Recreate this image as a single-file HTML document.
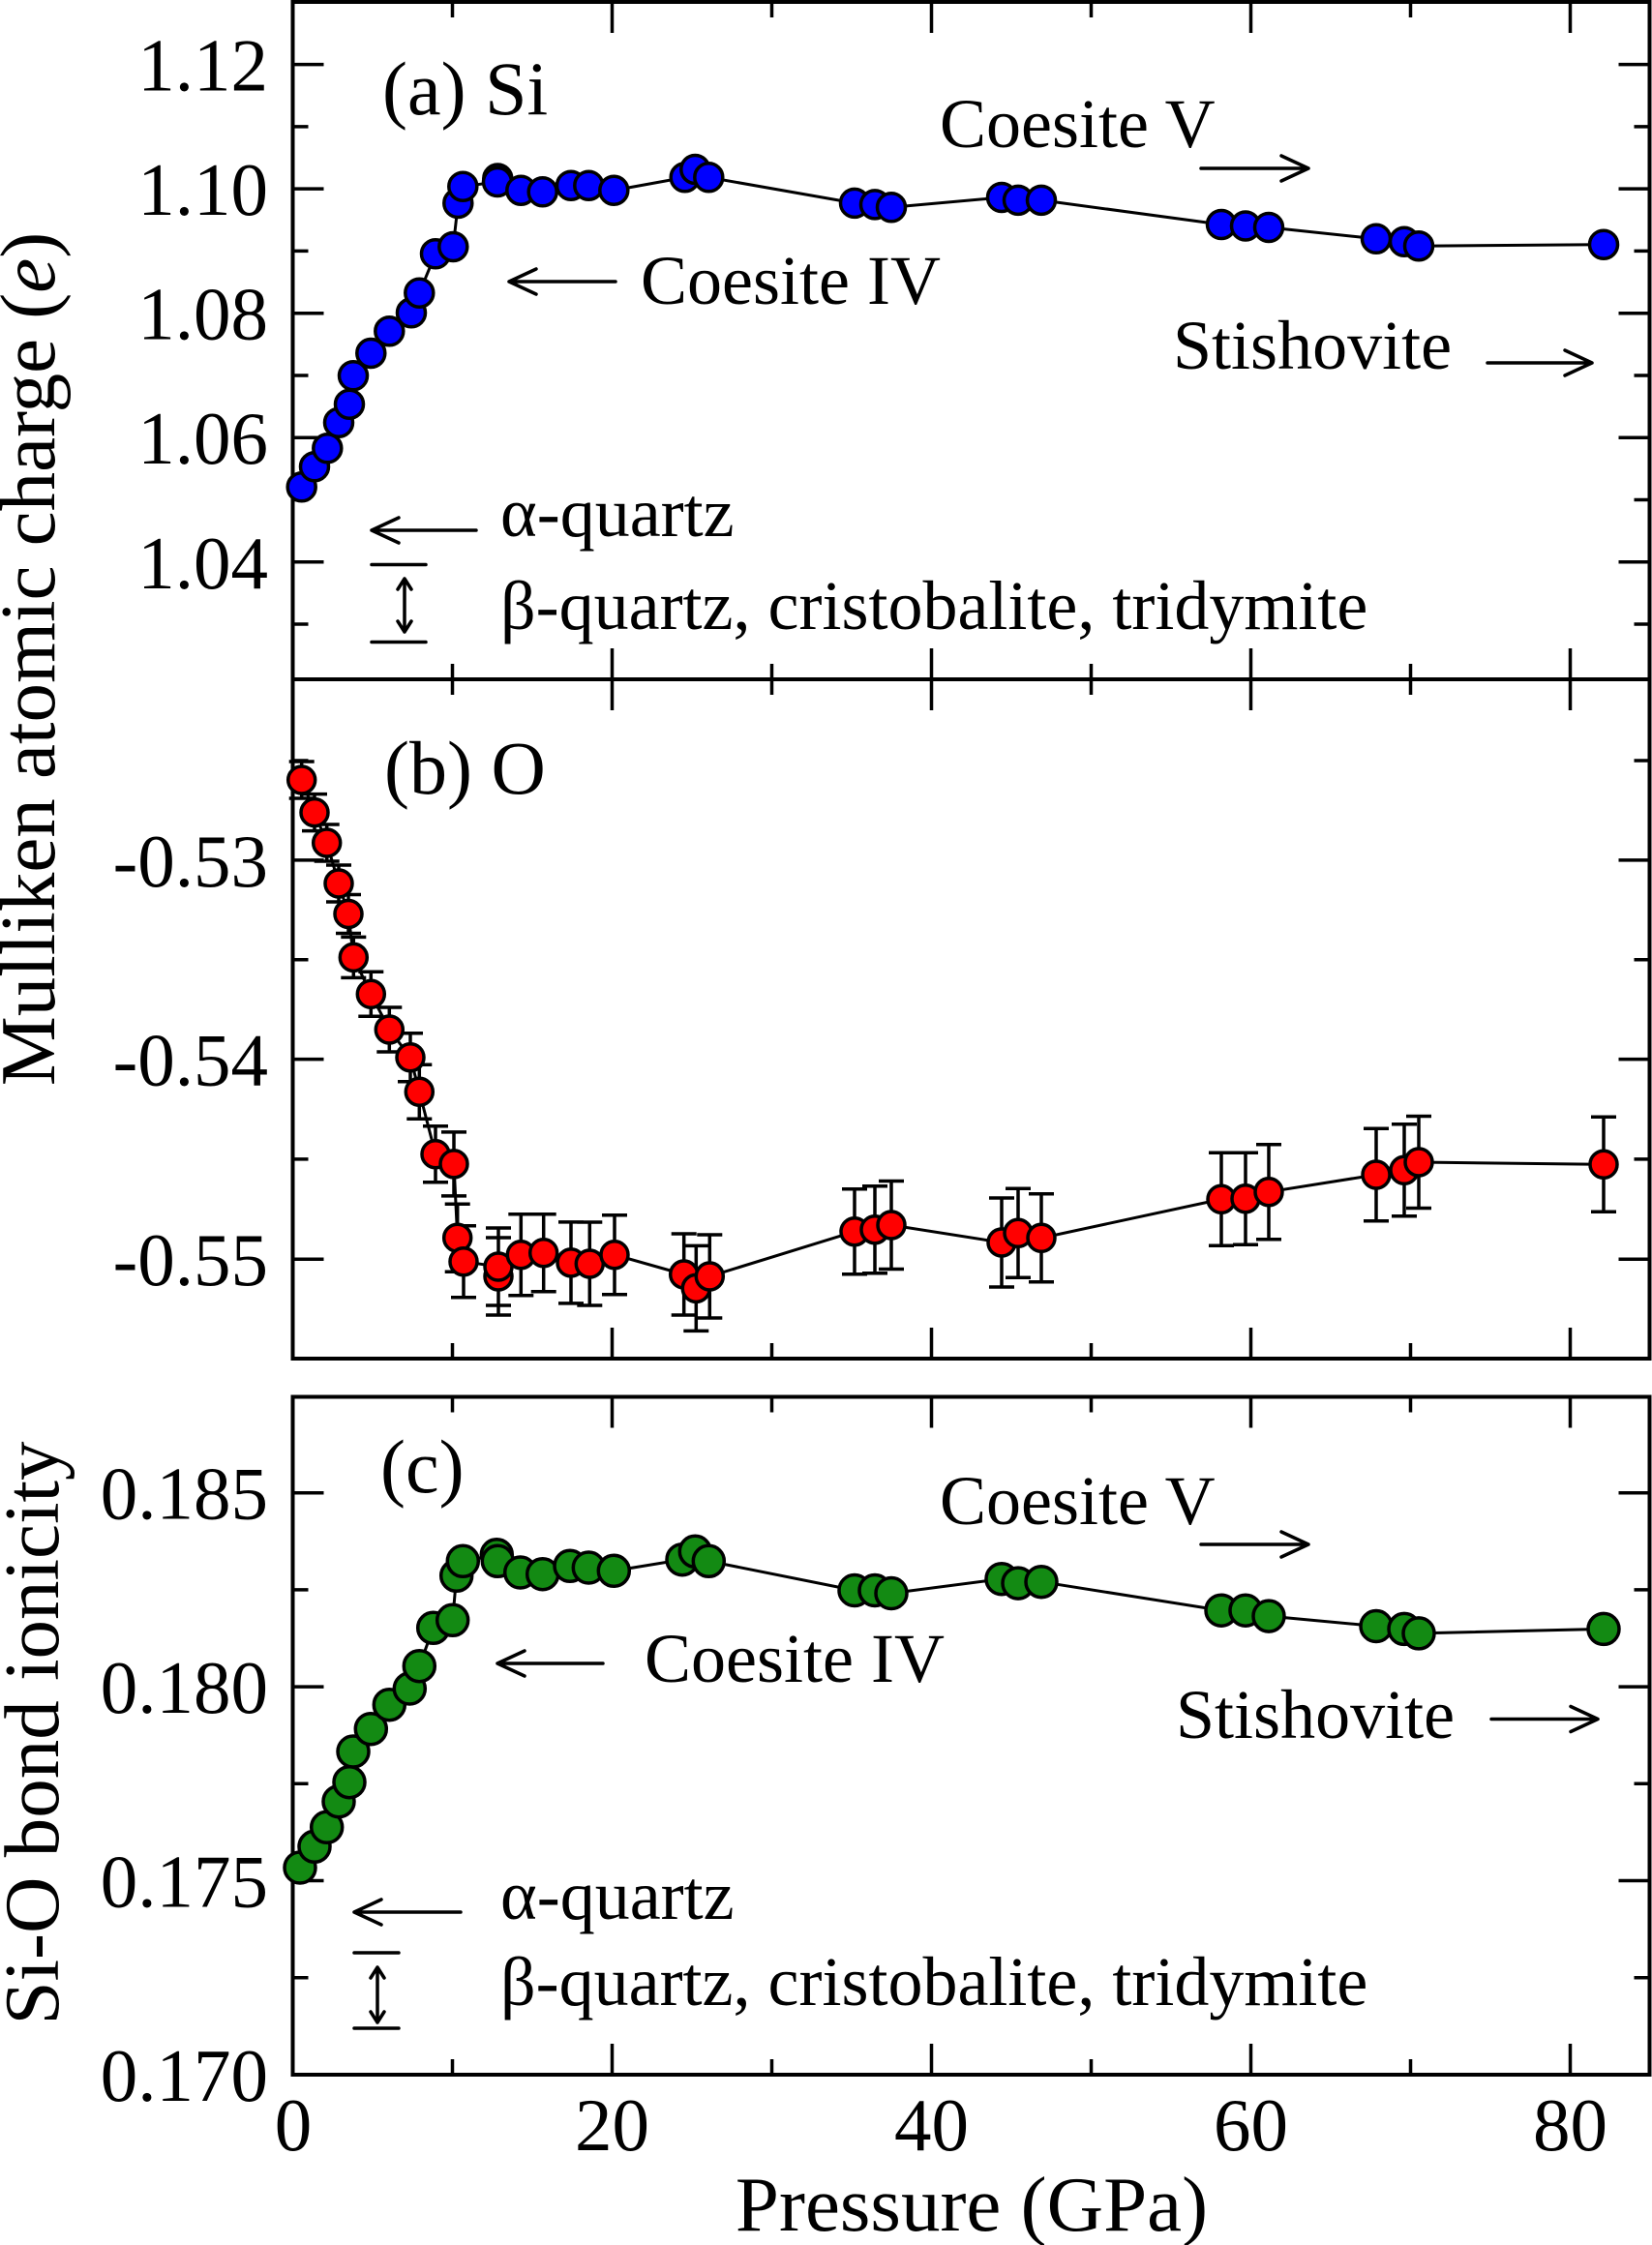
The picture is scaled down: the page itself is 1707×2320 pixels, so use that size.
<!DOCTYPE html>
<html><head><meta charset="utf-8"><style>
html,body{margin:0;padding:0;background:#fff;}
svg{display:block;}
text{font-family:"Liberation Serif","Times New Roman",serif;fill:#000;}
</style></head><body>
<svg xmlns="http://www.w3.org/2000/svg" width="1707" height="2320" viewBox="0 0 1707 2320">
<rect width="1707" height="2320" fill="#fff"/>

<!-- ================= PANEL A ================= -->
<g stroke="#000" stroke-width="3.5" fill="none">
<path d="M302.5 580.8h32M302.5 452.2h32M302.5 323.7h32M302.5 195.1h32M302.5 66.6h32
M302.5 645h16M302.5 516.5h16M302.5 388h16M302.5 259.4h16M302.5 130.9h16
M1704.5 580.8h-32M1704.5 452.2h-32M1704.5 323.7h-32M1704.5 195.1h-32M1704.5 66.6h-32
M1704.5 645h-16M1704.5 516.5h-16M1704.5 388h-16M1704.5 259.4h-16M1704.5 130.9h-16"/>
<path d="M632.5 2v32M962.5 2v32M1292.5 2v32M1622.5 2v32M467.5 2v16M797.5 2v16M1127.5 2v16M1457.5 2v16
M632.5 702v-32M962.5 702v-32M1292.5 702v-32M1622.5 702v-32M467.5 702v-16M797.5 702v-16M1127.5 702v-16M1457.5 702v-16"/>
</g>

<!-- ================= PANEL B ================= -->
<g stroke="#000" stroke-width="3.5" fill="none">
<path d="M302.5 888.9h32M302.5 1094.6h32M302.5 1301.2h32M302.5 786h16M302.5 991.8h16M302.5 1197.9h16
M1704.5 888.9h-32M1704.5 1094.6h-32M1704.5 1301.2h-32M1704.5 786h-16M1704.5 991.8h-16M1704.5 1197.9h-16"/>
<path d="M632.5 702v32M962.5 702v32M1292.5 702v32M1622.5 702v32M467.5 702v16M797.5 702v16M1127.5 702v16M1457.5 702v16
M632.5 1404v-32M962.5 1404v-32M1292.5 1404v-32M1622.5 1404v-32M467.5 1404v-16M797.5 1404v-16M1127.5 1404v-16M1457.5 1404v-16"/>
</g>

<!-- ================= PANEL C ================= -->
<g stroke="#000" stroke-width="3.5" fill="none">
<path d="M302.5 1943.5h32M302.5 1743.1h32M302.5 1542.7h32M302.5 2043.7h16M302.5 1843.3h16M302.5 1642.9h16
M1704.5 1943.5h-32M1704.5 1743.1h-32M1704.5 1542.7h-32M1704.5 2043.7h-16M1704.5 1843.3h-16M1704.5 1642.9h-16"/>
<path d="M632.5 1443.5v32M962.5 1443.5v32M1292.5 1443.5v32M1622.5 1443.5v32M467.5 1443.5v16M797.5 1443.5v16M1127.5 1443.5v16M1457.5 1443.5v16
M632.5 2144v-32M962.5 2144v-32M1292.5 2144v-32M1622.5 2144v-32M467.5 2144v-16M797.5 2144v-16M1127.5 2144v-16M1457.5 2144v-16"/>
</g>

<!-- frames -->
<g stroke="#000" stroke-width="4" fill="none">
<rect x="302.5" y="2" width="1402" height="1402"/>
<line x1="302.5" y1="702" x2="1704.5" y2="702"/>
<rect x="302.5" y="1443.5" width="1402" height="700.5"/>
</g>

<!-- tick labels -->
<g font-size="77" text-anchor="end">
<text x="277" y="93.6">1.12</text>
<text x="277" y="222.1">1.10</text>
<text x="277" y="350.7">1.08</text>
<text x="277" y="479.2">1.06</text>
<text x="277" y="607.8">1.04</text>
<text x="277" y="915.9">-0.53</text>
<text x="277" y="1121.6">-0.54</text>
<text x="277" y="1328.2">-0.55</text>
<text x="277" y="1569.7">0.185</text>
<text x="277" y="1770.1">0.180</text>
<text x="277" y="1970.5">0.175</text>
<text x="277" y="2171">0.170</text>
</g>
<g font-size="77" text-anchor="middle">
<text x="303" y="2222">0</text>
<text x="632.5" y="2222">20</text>
<text x="962.5" y="2222">40</text>
<text x="1292.5" y="2222">60</text>
<text x="1622.5" y="2222">80</text>
</g>

<!-- axis titles -->
<text x="1004" y="2305" font-size="81" text-anchor="middle">Pressure (GPa)</text>
<text transform="translate(56,681) rotate(-90)" font-size="81" text-anchor="middle">Mulliken atomic charge (<tspan font-style="italic">e</tspan>)</text>
<text transform="translate(60,1791) rotate(-90)" font-size="81" text-anchor="middle">Si-O bond ionicity</text>

<!-- ===== data A ===== -->
<polyline fill="none" stroke="#000" stroke-width="3" points="311.7,503.3 325,482.3 338.3,463.3 350,436.7 361,417.7 365,388.3 383.3,365 402.3,342.3 425,323.3 433.3,302.7 450,262.3 468.3,255 473.3,210 478.3,192.7 514,188 514.3,184.5 538.3,196.7 560.7,198.3 590,191.7 608.3,191.7 634.3,196.7 707.7,183.3 718.3,175 732.3,183.3 883,209.9 904,211.4 921,214.3 1035,204 1052,206.9 1076,206.9 1262,232 1287,233.5 1311,235 1422,246.8 1451,249.8 1466,254.2 1657,252.7"/>
<g fill="#0000ff" stroke="#000" stroke-width="3.5">
<circle cx="311.7" cy="503.3" r="14.5"/><circle cx="325" cy="482.3" r="14.5"/><circle cx="338.3" cy="463.3" r="14.5"/><circle cx="350" cy="436.7" r="14.5"/><circle cx="361" cy="417.7" r="14.5"/><circle cx="365" cy="388.3" r="14.5"/><circle cx="383.3" cy="365" r="14.5"/><circle cx="402.3" cy="342.3" r="14.5"/><circle cx="425" cy="323.3" r="14.5"/><circle cx="433.3" cy="302.7" r="14.5"/><circle cx="450" cy="262.3" r="14.5"/><circle cx="468.3" cy="255" r="14.5"/><circle cx="473.3" cy="210" r="14.5"/><circle cx="478.3" cy="192.7" r="14.5"/><circle cx="514.3" cy="184.5" r="14.5"/><circle cx="514" cy="188" r="14.5"/><circle cx="538.3" cy="196.7" r="14.5"/><circle cx="560.7" cy="198.3" r="14.5"/><circle cx="590" cy="191.7" r="14.5"/><circle cx="608.3" cy="191.7" r="14.5"/><circle cx="634.3" cy="196.7" r="14.5"/><circle cx="707.7" cy="183.3" r="14.5"/><circle cx="718.3" cy="175" r="14.5"/><circle cx="732.3" cy="183.3" r="14.5"/><circle cx="883" cy="209.9" r="14.5"/><circle cx="904" cy="211.4" r="14.5"/><circle cx="921" cy="214.3" r="14.5"/><circle cx="1035" cy="204" r="14.5"/><circle cx="1052" cy="206.9" r="14.5"/><circle cx="1076" cy="206.9" r="14.5"/><circle cx="1262" cy="232" r="14.5"/><circle cx="1287" cy="233.5" r="14.5"/><circle cx="1311" cy="235" r="14.5"/><circle cx="1422" cy="246.8" r="14.5"/><circle cx="1451" cy="249.8" r="14.5"/><circle cx="1466" cy="254.2" r="14.5"/><circle cx="1657" cy="252.7" r="14.5"/>
</g>

<!-- ===== data B ===== -->
<polyline fill="none" stroke="#000" stroke-width="3" points="311.7,806 325,839.6 337.7,871 350,913 360,944.5 365.3,989.4 383.3,1027.3 402.3,1064 424,1092.7 433.3,1128.2 450,1192.7 469,1202.9 472.7,1279.2 479,1303.7 515,1309 515,1319 538.3,1296.7 561.7,1294.7 590,1304.9 609.3,1306 635,1296.7 706.7,1317 719.3,1331.4 733.3,1319 883,1272.7 904,1270.7 921,1266 1035,1284 1052,1274.3 1076,1279.3 1262,1239.3 1287,1238.7 1311,1231.7 1422,1214 1451,1209.3 1466,1201 1657,1203.3"/>
<g stroke="#000" stroke-width="3.5" fill="none">
<path d="M311.7 787v38M298.7 787h26M298.7 825h26
M325 820.6v38M312 820.6h26M312 858.6h26
M337.7 852v38M324.7 852h26M324.7 890h26
M350 894v38M337 894h26M337 932h26
M360 924.5v40M347 924.5h26M347 964.5h26
M365.3 968.4v42M352.3 968.4h26M352.3 1010.4h26
M383.3 1004.3v46M370.3 1004.3h26M370.3 1050.3h26
M402.3 1041v46M389.3 1041h26M389.3 1087h26
M424 1067.7v50M411 1067.7h26M411 1117.7h26
M433.3 1100.2v56M420.3 1100.2h26M420.3 1156.2h26
M450 1163.7v58M437 1163.7h26M437 1221.7h26
M469 1169.9v66M456 1169.9h26M456 1235.9h26
M472.7 1244.2v70M459.7 1244.2h26M459.7 1314.2h26
M479 1266.7v74M466 1266.7h26M466 1340.7h26
M515 1269v80M502 1269h26M502 1349h26
M515 1279v80M502 1279h26M502 1359h26
M538.3 1254.7v84M525.3 1254.7h26M525.3 1338.7h26
M561.7 1254.7v80M548.7 1254.7h26M548.7 1334.7h26
M590 1262.9v84M577 1262.9h26M577 1346.9h26
M609.3 1263v86M596.3 1263h26M596.3 1349h26
M635 1255.7v82M622 1255.7h26M622 1337.7h26
M706.7 1275v84M693.7 1275h26M693.7 1359h26
M719.3 1287.4v88M706.3 1287.4h26M706.3 1375.4h26
M733.3 1276v86M720.3 1276h26M720.3 1362h26
M883 1228.7v88M870 1228.7h26M870 1316.7h26
M904 1225.7v90M891 1225.7h26M891 1315.7h26
M921 1220.5v91M908 1220.5h26M908 1311.5h26
M1035 1238v92M1022 1238h26M1022 1330h26
M1052 1228.3v92M1039 1228.3h26M1039 1320.3h26
M1076 1233.8v91M1063 1233.8h26M1063 1324.8h26
M1262 1191.3v96M1249 1191.3h26M1249 1287.3h26
M1287 1191.2v95M1274 1191.2h26M1274 1286.2h26
M1311 1182.7v98M1298 1182.7h26M1298 1280.7h26
M1422 1166.3v95.4M1409 1166.3h26M1409 1261.7h26
M1451 1161.8v95M1438 1161.8h26M1438 1256.8h26
M1466 1153.5v95M1453 1153.5h26M1453 1248.5h26
M1657 1154.3v98M1644 1154.3h26M1644 1252.3h26"/>
</g>
<g fill="#ff0000" stroke="#000" stroke-width="3.5">
<circle cx="311.7" cy="806" r="14"/><circle cx="325" cy="839.6" r="14"/><circle cx="337.7" cy="871" r="14"/><circle cx="350" cy="913" r="14"/><circle cx="360" cy="944.5" r="14"/><circle cx="365.3" cy="989.4" r="14"/><circle cx="383.3" cy="1027.3" r="14"/><circle cx="402.3" cy="1064" r="14"/><circle cx="424" cy="1092.7" r="14"/><circle cx="433.3" cy="1128.2" r="14"/><circle cx="450" cy="1192.7" r="14"/><circle cx="469" cy="1202.9" r="14"/><circle cx="472.7" cy="1279.2" r="14"/><circle cx="479" cy="1303.7" r="14"/><circle cx="515" cy="1319" r="14"/><circle cx="515" cy="1309" r="14"/><circle cx="538.3" cy="1296.7" r="14"/><circle cx="561.7" cy="1294.7" r="14"/><circle cx="590" cy="1304.9" r="14"/><circle cx="609.3" cy="1306" r="14"/><circle cx="635" cy="1296.7" r="14"/><circle cx="706.7" cy="1317" r="14"/><circle cx="719.3" cy="1331.4" r="14"/><circle cx="733.3" cy="1319" r="14"/><circle cx="883" cy="1272.7" r="14"/><circle cx="904" cy="1270.7" r="14"/><circle cx="921" cy="1266" r="14"/><circle cx="1035" cy="1284" r="14"/><circle cx="1052" cy="1274.3" r="14"/><circle cx="1076" cy="1279.3" r="14"/><circle cx="1262" cy="1239.3" r="14"/><circle cx="1287" cy="1238.7" r="14"/><circle cx="1311" cy="1231.7" r="14"/><circle cx="1422" cy="1214" r="14"/><circle cx="1451" cy="1209.3" r="14"/><circle cx="1466" cy="1201" r="14"/><circle cx="1657" cy="1203.3" r="14"/>
</g>

<!-- ===== data C ===== -->
<polyline fill="none" stroke="#000" stroke-width="3" points="310,1930 325,1908.3 337.7,1888.3 350,1861.7 361,1841.7 365,1810 383.3,1786.7 402.3,1761.7 423.3,1745 433.3,1721.7 447.7,1682.3 467.7,1674.3 471.7,1628.3 478.3,1613.3 513.3,1606.7 514.3,1613.3 537.7,1625 560.7,1626.7 589,1618.3 608.3,1620 634.3,1623.3 705,1611.7 718.3,1603.3 732.3,1613.3 883,1643.5 904,1643.5 921,1646.5 1035,1631.7 1052,1636.1 1076,1634.7 1262,1664.2 1287,1664.2 1311,1670.1 1422,1680.5 1451,1683.4 1466,1687.9 1657,1683.4"/>
<g fill="#138a13" stroke="#000" stroke-width="3.5">
<circle cx="310" cy="1930" r="16"/><circle cx="325" cy="1908.3" r="16"/><circle cx="337.7" cy="1888.3" r="16"/><circle cx="350" cy="1861.7" r="16"/><circle cx="361" cy="1841.7" r="16"/><circle cx="365" cy="1810" r="16"/><circle cx="383.3" cy="1786.7" r="16"/><circle cx="402.3" cy="1761.7" r="16"/><circle cx="423.3" cy="1745" r="16"/><circle cx="433.3" cy="1721.7" r="16"/><circle cx="447.7" cy="1682.3" r="16"/><circle cx="467.7" cy="1674.3" r="16"/><circle cx="471.7" cy="1628.3" r="16"/><circle cx="478.3" cy="1613.3" r="16"/><circle cx="513.3" cy="1606.7" r="16"/><circle cx="514.3" cy="1613.3" r="16"/><circle cx="537.7" cy="1625" r="16"/><circle cx="560.7" cy="1626.7" r="16"/><circle cx="589" cy="1618.3" r="16"/><circle cx="608.3" cy="1620" r="16"/><circle cx="634.3" cy="1623.3" r="16"/><circle cx="705" cy="1611.7" r="16"/><circle cx="718.3" cy="1603.3" r="16"/><circle cx="732.3" cy="1613.3" r="16"/><circle cx="883" cy="1643.5" r="16"/><circle cx="904" cy="1643.5" r="16"/><circle cx="921" cy="1646.5" r="16"/><circle cx="1035" cy="1631.7" r="16"/><circle cx="1052" cy="1636.1" r="16"/><circle cx="1076" cy="1634.7" r="16"/><circle cx="1262" cy="1664.2" r="16"/><circle cx="1287" cy="1664.2" r="16"/><circle cx="1311" cy="1670.1" r="16"/><circle cx="1422" cy="1680.5" r="16"/><circle cx="1451" cy="1683.4" r="16"/><circle cx="1466" cy="1687.9" r="16"/><circle cx="1657" cy="1683.4" r="16"/>
</g>

<!-- ===== annotations ===== -->
<g font-size="78">
<text x="395" y="118">(a) Si</text>
<text x="397" y="820">(b) O</text>
<text x="393" y="1542">(c)</text>
</g>
<g font-size="72">
<text x="971" y="152">Coesite V</text>
<text x="662" y="314">Coesite IV</text>
<text x="1212" y="381">Stishovite</text>
<text x="517" y="554">α-quartz</text>
<text x="517" y="650">β-quartz, cristobalite, tridymite</text>

<text x="971" y="1575">Coesite V</text>
<text x="666" y="1738">Coesite IV</text>
<text x="1215" y="1796">Stishovite</text>
<text x="517" y="1983">α-quartz</text>
<text x="517" y="2072">β-quartz, cristobalite, tridymite</text>
</g>

<g stroke="#000" stroke-width="3.5" fill="none" stroke-linecap="round" stroke-linejoin="round">
<path d="M1241 174H1352M1324 161L1352 174L1324 187"/>
<path d="M636 291H526M554 278L526 291L554 304"/>
<path d="M1537 375H1645M1617 362L1645 375L1617 388"/>
<path d="M492 548H384M412 535L384 548L412 561"/>
<path d="M384 583.5H440M384 663.5H440M418 598V653M411 609L418 598L425 609M411 642L418 653L425 642"/>
<path d="M1241 1596H1352M1324 1583L1352 1596L1324 1609"/>
<path d="M623 1719H514M542 1706L514 1719L542 1732"/>
<path d="M1541 1776.5H1651M1623 1763.5L1651 1776.5L1623 1789.5"/>
<path d="M476 1976H366M394 1963L366 1976L394 1989"/>
<path d="M366 2018H412M366 2096H412M390 2033V2090M383 2044L390 2033L397 2044M383 2079L390 2090L397 2079"/>
</g>
</svg>
</body></html>
